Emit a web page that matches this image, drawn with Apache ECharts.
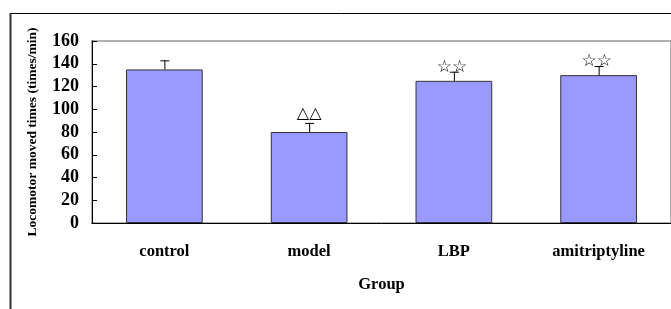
<!DOCTYPE html>
<html><head><meta charset="utf-8">
<script src="https://cdn.jsdelivr.net/npm/echarts@6/dist/echarts.min.js"></script>
<style>html,body{margin:0;padding:0;background:#fff}#c{width:671px;height:309px}</style>
</head><body><div id="c"></div>
<script>
const categories = ['control', 'model', 'LBP', 'amitriptyline'];
const means = [135, 80, 125, 130];
const errors = [8, 8, 8, 8];
const marks = ['', '△△', '☆☆', '☆☆'];
const yTicks = { min: 0, max: 160, interval: 20 };

const chart = echarts.init(document.getElementById('c'), null, { renderer: 'canvas' });
const serif = '"Liberation Serif", "Times New Roman", serif';
const errData = categories.map((c, i) => [i, means[i], means[i] + errors[i], marks[i]]);

chart.setOption({
  animation: false,
  backgroundColor: '#fff',
  graphic: [
    { type: 'line', shape: { x1: 10, y1: 13.5, x2: 671, y2: 13.5 }, style: { stroke: '#000', lineWidth: 1 } },
    { type: 'line', shape: { x1: 10.5, y1: 13, x2: 10.5, y2: 309 }, style: { stroke: '#333', lineWidth: 2 } }
  ],
  grid: { left: 92, top: 41, right: -5, bottom: 86, show: true, borderColor: '#b0b0b0', borderWidth: 2, backgroundColor: '#fff' },
  xAxis: {
    type: 'category', data: categories,
    axisLine: { lineStyle: { color: '#000', width: 1 } },
    axisTick: { inside: true, length: 5, lineStyle: { color: '#000' } },
    axisLabel: { color: '#000', fontFamily: serif, fontWeight: 'bold', fontSize: 16.5, margin: 20 },
    name: 'Group', nameLocation: 'middle', nameGap: 53,
    nameTextStyle: { color: '#000', fontFamily: serif, fontWeight: 'bold', fontSize: 16.5 }
  },
  yAxis: {
    type: 'value', min: yTicks.min, max: yTicks.max, interval: yTicks.interval,
    splitLine: { show: false },
    axisLine: { show: true, lineStyle: { color: '#000', width: 1 } },
    axisTick: { show: true, inside: true, length: 5, lineStyle: { color: '#000' } },
    axisLabel: { color: '#000', fontFamily: serif, fontWeight: 'bold', fontSize: 18, margin: 13 },
    name: 'Locomotor moved times (times/min)', nameLocation: 'middle', nameGap: 52,
    nameTextStyle: { color: '#000', fontFamily: serif, fontWeight: 'bold', fontSize: 13.5 }
  },
  series: [
    {
      type: 'bar', data: means, barWidth: '53%',
      itemStyle: { color: '#9999ff', borderColor: '#333', borderWidth: 1 }
    },
    {
      type: 'custom', data: errData, z: 5,
      renderItem: function (params, api) {
        const x = api.value(0);
        const lo = api.coord([x, api.value(1)]);
        const hi = api.coord([x, api.value(2)]);
        const t = api.value(3);
        const children = [
          { type: 'line', shape: { x1: lo[0] + 0.5, y1: lo[1], x2: lo[0] + 0.5, y2: hi[1] }, style: { stroke: '#000', lineWidth: 1 } },
          { type: 'line', shape: { x1: lo[0] - 4, y1: hi[1] + 0.5, x2: lo[0] + 5, y2: hi[1] + 0.5 }, style: { stroke: '#000', lineWidth: 1 } }
        ];
        if (t) {
          const isStar = t.indexOf('☆') >= 0;
          children.push({
            type: 'text', z2: 10,
            style: {
              text: t, x: lo[0] - (isStar ? 2 : 0), y: hi[1] + (isStar ? 4 : -1),
              align: 'center', verticalAlign: 'bottom',
              fill: '#000', fontSize: isStar ? 17 : 16,
              fontFamily: '"DejaVu Sans", sans-serif'
            }
          });
        }
        return { type: 'group', children: children };
      }
    }
  ]
});
</script>
</body></html>
